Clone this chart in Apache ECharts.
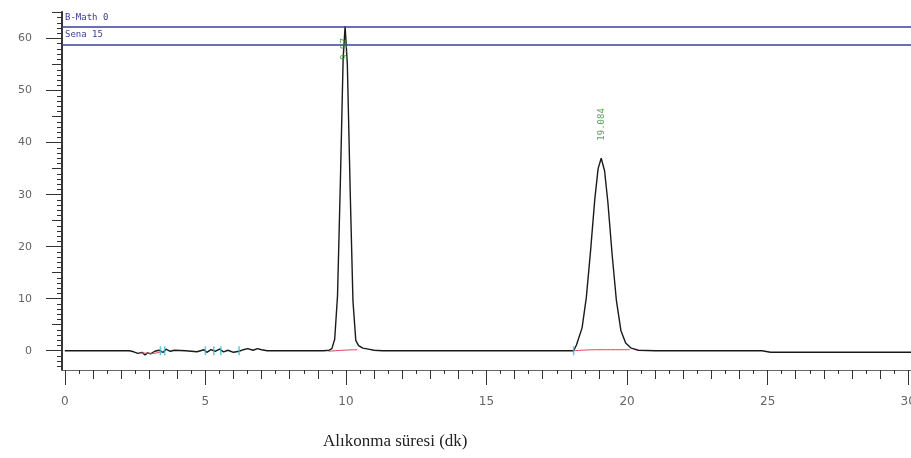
<!DOCTYPE html>
<html>
<head>
<meta charset="utf-8">
<script src="https://cdn.jsdelivr.net/npm/echarts@6/dist/echarts.min.js"></script>
<style>
html, body { margin: 0; padding: 0; background: #fff; }
#main { width: 911px; height: 458px; }
</style>
</head>
<body>
<div id="main"></div>
<script>
var myChart = echarts.init(document.getElementById("main"));

// chromatogram trace (time in min, signal)
var traceTime = [0, 2.3, 2.45, 2.6, 2.75, 2.85, 2.95, 3.05, 3.2, 3.35,
	3.5, 3.6, 3.75, 3.9, 4.3, 4.7, 4.95, 5.05, 5.2, 5.35,
	5.5, 5.65, 5.8, 6.0, 6.2, 6.35, 6.5, 6.7, 6.85, 7.0,
	7.2, 7.5, 8.5, 9.2, 9.4, 9.5, 9.6, 9.7, 9.8, 9.9,
	9.97, 10.05, 10.15, 10.25, 10.35, 10.45, 10.6, 10.8, 11.0, 11.3,
	12.0, 17.5, 18.1, 18.2, 18.4, 18.55, 18.7, 18.85, 18.97, 19.08,
	19.2, 19.32, 19.47, 19.62, 19.78, 19.95, 20.15, 20.4, 21.0, 24.8,
	25.1, 30.1];
var traceSignal = [0, 0, -0.2, -0.5, -0.3, -0.8, -0.4, -0.6, -0.1, 0.1,
	-0.3, 0.3, -0.1, 0.1, 0, -0.2, 0.2, -0.3, 0.2, -0.1,
	0.3, -0.2, 0.1, -0.3, -0.1, 0.2, 0.4, 0.1, 0.4, 0.2,
	0, 0, 0, 0, 0.1, 0.4, 2.2, 10.5, 32, 56,
	62.4, 55, 31, 9.5, 2, 1.0, 0.5, 0.3, 0.1, 0,
	0, 0, 0, 1.1, 4.4, 10.2, 19.1, 29, 35, 37,
	34.6, 28.4, 18.4, 9.7, 3.9, 1.5, 0.5, 0.1, 0, 0,
	-0.3, -0.3];

// integration baselines (red)
var base1 = [[9.38, -0.1], [9.9, 0.1], [10.4, 0.2]];
var base2 = [[18.1, 0], [19.0, 0.2], [20.1, 0.2]];
var base3 = [[2.7, -0.4], [3.1, -0.5], [3.5, -0.1]];

// event marks (cyan)
var markTimes = [3.4, 3.55, 5.0, 5.3, 5.55, 6.2, 18.1];

// peak labels
var peakTimes = [9.97, 19.08];
var peakLabelY = [58, 43.5];
var peakNames = ['9.97', '19.084'];

// header lines
var headerLevels = [62.2, 58.8];
var headerTexts = ['B-Math 0', 'Sena 15'];

var xLabelValues = [0, 5, 10, 15, 20, 25, 30];
var yLabelValues = [0, 10, 20, 30, 40, 50, 60];

var xMin = -0.1, xMax = 30.1, yMin = -3.7, yMax = 65.1;

var xInt = [], xHalf = [], yMid = [], yMinor = [];
for (var i = 0; i <= 30; i++) xInt.push(i);
for (var i = 0; i <= 60; i++) xHalf.push(i / 2);
for (var i = 5; i <= 65; i += 10) yMid.push(i);
for (var i = -3; i <= 65; i++) yMinor.push(i);

var pts = traceTime.map(function (t, k) { return [t, traceSignal[k]]; });

function xAx(ticks, len, labels) {
	return {
		type: 'value', min: xMin, max: xMax, position: 'bottom', offset: 0,
		axisLine: { show: true, onZero: false, lineStyle: { color: '#666', width: 1 } },
		axisTick: { show: true, inside: false, length: len, customValues: ticks, lineStyle: { color: '#333', width: 1 } },
		axisLabel: labels ? { show: true, customValues: labels, margin: 26, color: '#666', fontSize: 12, fontFamily: 'DejaVu Sans' } : { show: false },
		splitLine: { show: false }
	};
}
function yAx(ticks, len, labels) {
	return {
		type: 'value', min: yMin, max: yMax, position: 'left', offset: 0,
		axisLine: { show: true, onZero: false, lineStyle: { color: '#333', width: 1.5 } },
		axisTick: { show: true, inside: false, length: len, customValues: ticks, lineStyle: { color: '#333', width: 1 } },
		axisLabel: labels ? { show: true, customValues: labels, margin: 30, color: '#666', fontSize: 11, fontFamily: 'DejaVu Sans' } : { show: false },
		splitLine: { show: false }
	};
}

option = {
	animation: false,
	backgroundColor: '#fff',
	title: {
		text: 'Alıkonma süresi (dk)',
		left: 318, top: 428,
		textStyle: { fontFamily: 'Liberation Serif', fontSize: 17, fontWeight: 'normal', color: '#222' }
	},
	grid: { left: 62, right: 0, top: 12, bottom: 88, outerBoundsMode: 'none', containLabel: false },
	xAxis: [xAx(xLabelValues, 15, xLabelValues), xAx(xInt, 9), xAx(xHalf, 4)],
	yAxis: [yAx(yLabelValues, 16, yLabelValues), yAx(yMid, 10), yAx(yMinor, 5)],
	graphic: headerTexts.map(function (s, k) {
		return {
			type: 'text', left: 65, top: 13 + k * 17,
			style: { text: s, fill: '#3a3a9c', font: '9px "DejaVu Sans Mono"' }
		};
	}),
	series: [
		{
			type: 'line', data: pts, showSymbol: false, z: 3,
			lineStyle: { color: '#1a1a1a', width: 1.4 },
			markLine: {
				silent: true, symbol: 'none', label: { show: false },
				lineStyle: { color: '#3d3da0', width: 1.5, type: 'solid' },
				data: headerLevels.map(function (v) { return { yAxis: v }; })
			}
		},
		{ type: 'line', data: base1, showSymbol: false, smooth: true, z: 4, lineStyle: { color: '#e0405a', width: 1 } },
		{ type: 'line', data: base2, showSymbol: false, smooth: true, z: 4, lineStyle: { color: '#e0405a', width: 1 } },
		{ type: 'line', data: base3, showSymbol: false, smooth: true, z: 4, lineStyle: { color: '#e0405a', width: 1 } },
		{
			type: 'scatter', symbol: 'rect', symbolSize: [1.5, 9], z: 5,
			itemStyle: { color: '#30c0d0' },
			data: markTimes.map(function (t) { return [t, 0]; })
		},
		{
			type: 'scatter', symbolSize: 0, z: 6,
			data: peakTimes.map(function (t, k) { return { value: [t, peakLabelY[k]], name: peakNames[k] }; }),
			label: {
				show: true, position: 'inside', rotate: 90,
				formatter: function (p) { return p.name; },
				color: '#2e8b2e', fontSize: 9, fontFamily: 'DejaVu Sans Mono'
			}
		}
	]
};

myChart.setOption(option);
</script>
</body>
</html>
